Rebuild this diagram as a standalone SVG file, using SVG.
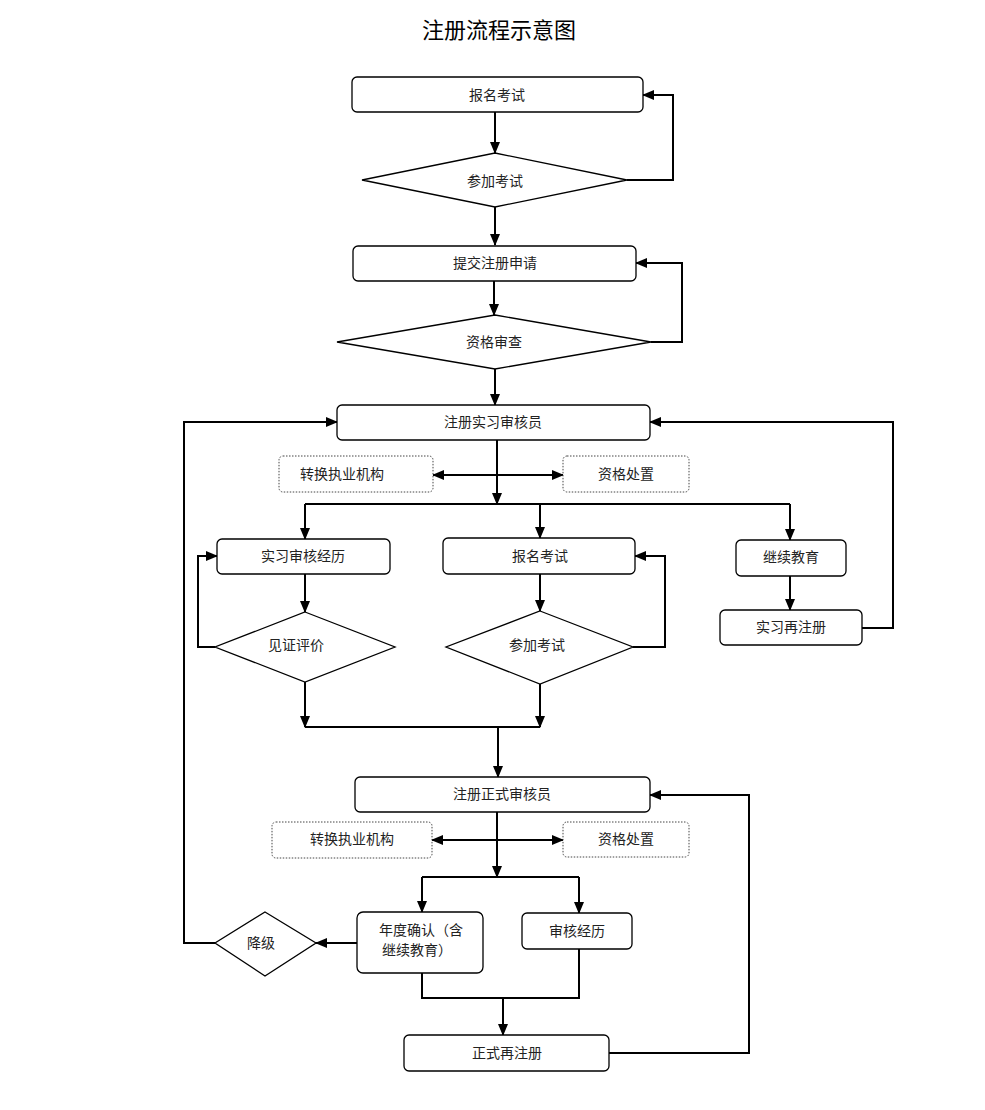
<svg xmlns="http://www.w3.org/2000/svg" width="985" height="1110" viewBox="0 0 985 1110">
<style>
.box{fill:#fff;stroke:#000;stroke-width:1.3}
.dot{fill:#fff;stroke:#444;stroke-width:1;stroke-dasharray:1.5 1.5}
.t{font-family:"Liberation Serif","Noto Sans CJK SC",serif;font-size:14px;fill:#222;text-anchor:middle;dominant-baseline:central}
.title{font-family:"Noto Sans CJK SC",sans-serif;font-size:22px;fill:#000;text-anchor:middle}
.c{fill:none;stroke:#000;stroke-width:2}
.a{marker-end:url(#ah)}
.d{marker-start:url(#ah);marker-end:url(#ah)}
</style>
<defs>
<marker id="ah" markerUnits="userSpaceOnUse" markerWidth="12" markerHeight="10" refX="11" refY="5" orient="auto-start-reverse">
<path d="M0,0 L12,5 L0,10 z" fill="#000"/>
</marker>
</defs>
<rect width="985" height="1110" fill="#fff"/>
<text class="title" x="499" y="38">注册流程示意图</text>

<g id="connectors">
<path class="c a" d="M495,112 V153"/>
<path class="c a" d="M627,180 H673 V95 H643"/>
<path class="c a" d="M495,207 V245"/>
<path class="c a" d="M494,281 V315"/>
<path class="c a" d="M651,342 H682 V263 H636"/>
<path class="c a" d="M495,369 V405"/>
<path class="c a" d="M497,440 V504"/>
<path class="c d" d="M433,475 H563"/>
<path class="c" d="M305,504 H790"/>
<path class="c a" d="M305,504 V539"/>
<path class="c a" d="M540,504 V538"/>
<path class="c a" d="M790,504 V540"/>
<path class="c a" d="M790,576 V610"/>
<path class="c a" d="M305,574 V612"/>
<path class="c a" d="M215,647 H198 V556 H217"/>
<path class="c a" d="M540,574 V611"/>
<path class="c a" d="M633,647 H665 V556 H635"/>
<path class="c a" d="M305,682 V727"/>
<path class="c a" d="M540,684 V727"/>
<path class="c" d="M305,727 H540"/>
<path class="c a" d="M498,727 V777"/>
<path class="c a" d="M862,628 H893 V422 H650"/>
<path class="c a" d="M215,943 H184 V422 H337"/>
<path class="c a" d="M497,812 V877"/>
<path class="c d" d="M432,840 H563"/>
<path class="c" d="M422,877 H579"/>
<path class="c a" d="M422,877 V912"/>
<path class="c a" d="M579,877 V913"/>
<path class="c a" d="M357,943 H316"/>
<path class="c" d="M422,973 V998 H579 V949"/>
<path class="c a" d="M503,998 V1035"/>
<path class="c a" d="M609,1053 H749 V795 H650"/>
</g>

<g id="n1"><rect class="box" x="352" y="77" width="291" height="35" rx="5"/><text class="t" x="497" y="95">报名考试</text></g>
<g id="n2"><polygon class="box" points="495,153 627,180 495,207 362,180"/><text class="t" x="495" y="181">参加考试</text></g>
<g id="n3"><rect class="box" x="353" y="246" width="283" height="35" rx="5"/><text class="t" x="495" y="263">提交注册申请</text></g>
<g id="n4"><polygon class="box" points="495,315 651,342 495,369 337,342"/><text class="t" x="494" y="342">资格审查</text></g>
<g id="n5"><rect class="box" x="337" y="405" width="313" height="35" rx="5"/><text class="t" x="493" y="422">注册实习审核员</text></g>
<g id="n6"><rect class="dot" x="279" y="456" width="154" height="36" rx="4"/><text class="t" x="342" y="474">转换执业机构</text></g>
<g id="n7"><rect class="dot" x="563" y="456" width="126" height="36" rx="4"/><text class="t" x="626" y="474">资格处置</text></g>
<g id="n8"><rect class="box" x="217" y="539" width="173" height="35" rx="5"/><text class="t" x="303" y="556">实习审核经历</text></g>
<g id="n9"><polygon class="box" points="305,612 395,647 305,682 215,647"/><text class="t" x="296" y="645">见证评价</text></g>
<g id="n10"><rect class="box" x="443" y="538" width="192" height="36" rx="5"/><text class="t" x="540" y="556">报名考试</text></g>
<g id="n11"><polygon class="box" points="540,611 633,647 540,684 446,647"/><text class="t" x="537" y="645">参加考试</text></g>
<g id="n12"><rect class="box" x="736" y="540" width="110" height="36" rx="5"/><text class="t" x="791" y="557">继续教育</text></g>
<g id="n13"><rect class="box" x="720" y="610" width="142" height="35" rx="5"/><text class="t" x="791" y="627">实习再注册</text></g>
<g id="n14"><rect class="box" x="355" y="777" width="295" height="35" rx="5"/><text class="t" x="502" y="794">注册正式审核员</text></g>
<g id="n15"><rect class="dot" x="272" y="822" width="160" height="36" rx="4"/><text class="t" x="352" y="839">转换执业机构</text></g>
<g id="n16"><rect class="dot" x="563" y="822" width="126" height="35" rx="4"/><text class="t" x="626" y="839">资格处置</text></g>
<g id="n17"><rect class="box" x="357" y="912" width="126" height="61" rx="6"/><text class="t" x="421" y="930">年度确认（含</text><text class="t" x="417" y="950">继续教育）</text></g>
<g id="n18"><rect class="box" x="522" y="913" width="110" height="36" rx="5"/><text class="t" x="577" y="931">审核经历</text></g>
<g id="n19"><polygon class="box" points="265,912 316,943 265,976 215,943"/><text class="t" x="261" y="943">降级</text></g>
<g id="n20"><rect class="box" x="404" y="1035" width="205" height="36" rx="5"/><text class="t" x="507" y="1053">正式再注册</text></g>
</svg>
